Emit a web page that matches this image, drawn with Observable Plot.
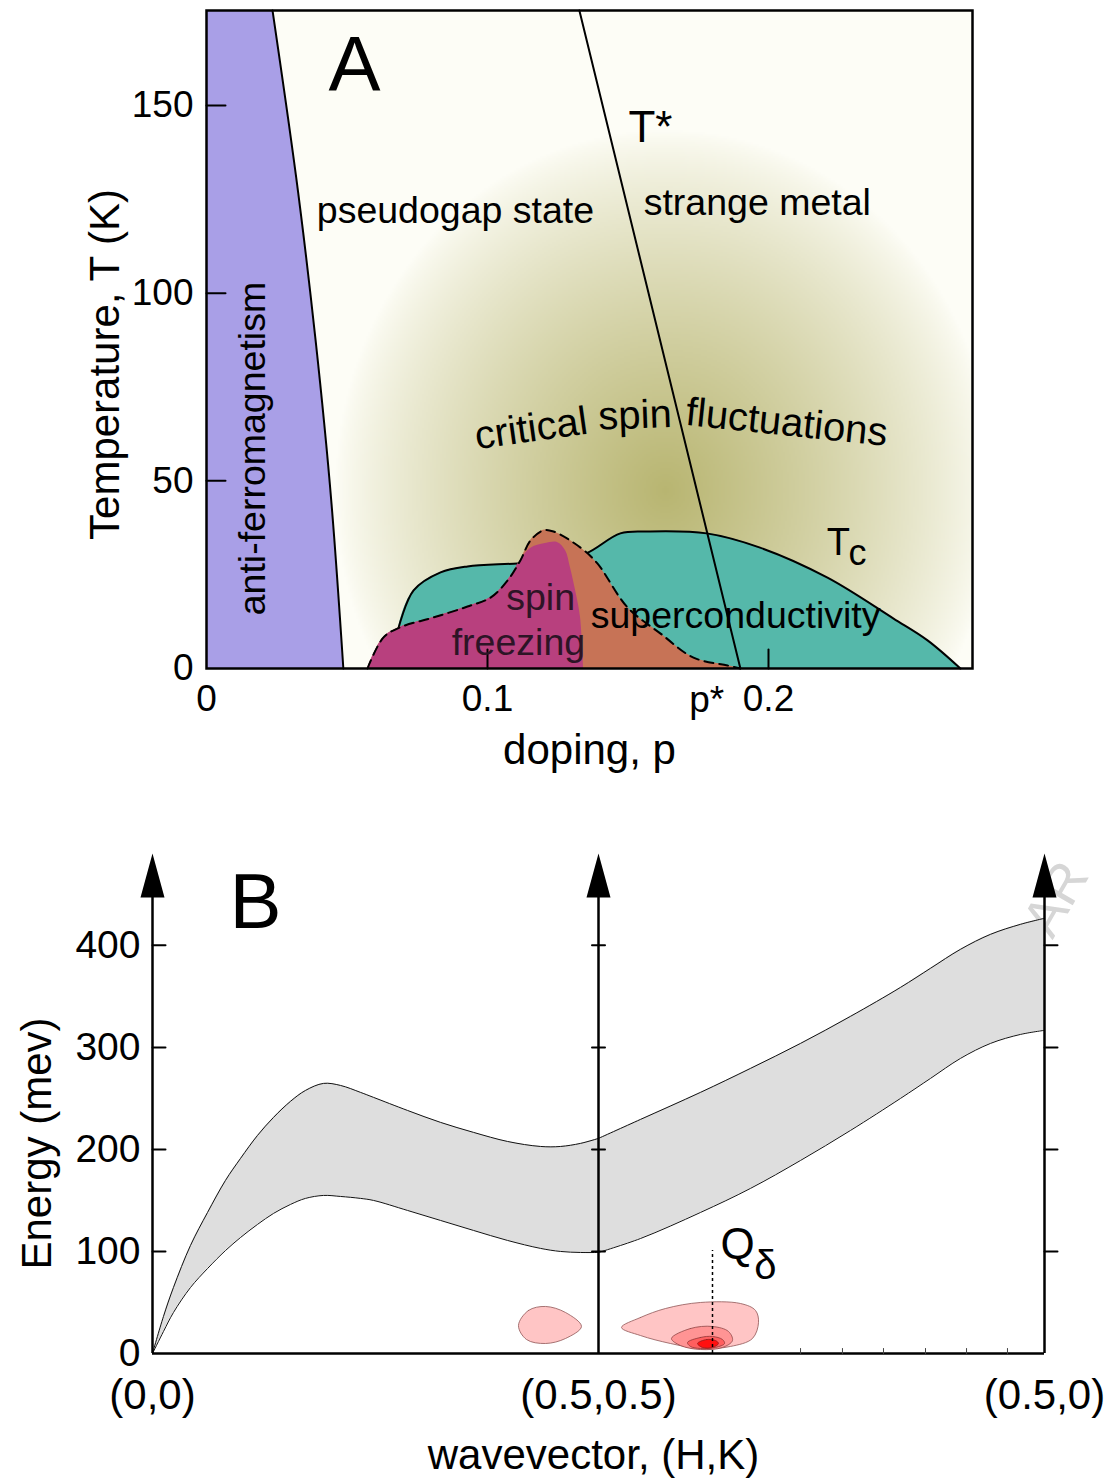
<!DOCTYPE html>
<html><head><meta charset="utf-8">
<script src="https://cdn.jsdelivr.net/npm/d3@7"></script>
<script src="https://cdn.jsdelivr.net/npm/@observablehq/plot@0.6"></script>
<style>body{margin:0;background:#fff} svg{display:block}</style>
</head><body><div id="chart"></div>
<script>
// ---------------- Panel A data (doping p, temperature T in K) ----------------
const pMax = 0.2726, tMax = 175.3;
const xTicksA = [0, 0.1, 0.2];
const yTicksA = [0, 50, 100, 150];
const pStar = 0.178;
const afBoundary = [
  {p:0.0235,T:175.3},{p:0.0318,T:131.5},{p:0.0388,T:87.6},{p:0.0445,T:43.8},{p:0.0487,T:0}];
const tStar = [{p:0.1327,T:175.3},{p:0.190,T:0}];
const tcDome = [
  {p:0.0680,T:0},{p:0.0683,T:10.7},{p:0.0737,T:20.8},{p:0.0833,T:25.6},{p:0.0929,T:27.2},
  {p:0.1107,T:28.0},{p:0.1224,T:28.8},{p:0.1349,T:30.6},{p:0.1473,T:36},{p:0.157,T:36.5},
  {p:0.178,T:36},{p:0.197,T:32.2},{p:0.221,T:24.2},{p:0.2445,T:13.3},{p:0.2566,T:7.5},{p:0.2683,T:0}];
const spinOrder = [
  {p:0.0573,T:0},{p:0.0630,T:8.3},{p:0.0690,T:11.0},{p:0.0808,T:13.6},{p:0.0929,T:16.5},
  {p:0.1011,T:18.9},{p:0.1071,T:23.4},{p:0.1117,T:28.8},{p:0.1153,T:34.1},{p:0.1199,T:36.8},
  {p:0.1235,T:36.5},{p:0.1331,T:32.2},{p:0.1391,T:28.0},{p:0.1498,T:16.3},{p:0.1616,T:9.3},
  {p:0.1733,T:2.9},{p:0.1854,T:0.8},{p:0.190,T:0}];
const spinGlass = [
  {p:0.0573,T:0},{p:0.0630,T:8.3},{p:0.0690,T:11.0},{p:0.0808,T:13.6},{p:0.0929,T:16.5},
  {p:0.1011,T:18.9},{p:0.1071,T:23.4},{p:0.1117,T:28.8},{p:0.1153,T:32},{p:0.1206,T:33.3},
  {p:0.1249,T:33.6},{p:0.1278,T:31.4},{p:0.1295,T:26.9},{p:0.1317,T:19.5},{p:0.1331,T:13.6},
  {p:0.1342,T:0}];

// ---------------- Panel B data (wavevector path q, energy E in meV) ----------------
const qTicks = [0, 0.5, 1];
const qLabels = ["(0,0)", "(0.5,0.5)", "(0.5,0)"];
const eTicks = [0, 100, 200, 300, 400];
const eMax = 490;
const qDelta = 0.6278;
const minorTicks = [0.7265, 0.7735, 0.8195, 0.8666, 0.9126, 0.9585];
const bandLeft = [
  {q:0,lo:0,hi:0},{q:0.0123,lo:21.6,hi:36.3},{q:0.0235,lo:40.2,hi:64.7},{q:0.0426,lo:64.7,hi:105.9},
  {q:0.0617,lo:83.3,hi:138.2},{q:0.0818,lo:100.9,hi:169.6},{q:0.0987,lo:113.7,hi:191.2},
  {q:0.1177,lo:126.5,hi:213.7},{q:0.1357,lo:137.3,hi:231.4},{q:0.1547,lo:146.1,hi:247.1},
  {q:0.1715,lo:152.0,hi:257.8},{q:0.1917,lo:154.9,hi:264.7},{q:0.2108,lo:153.9,hi:262.7},
  {q:0.2332,lo:152.0,hi:255.9},{q:0.2478,lo:150.0,hi:251.0},{q:0.2859,lo:140.2,hi:238.2},
  {q:0.3229,lo:130.4,hi:226.5},{q:0.3599,lo:120.6,hi:216.7},{q:0.3980,lo:110.8,hi:207.8},
  {q:0.4350,lo:103.0,hi:202.9},{q:0.4574,lo:100.0,hi:202.9},{q:0.4798,lo:99.0,hi:205.9},{q:0.5,lo:99.0,hi:210.8}];
const bandRight = [
  {q:0.5,lo:99.0,hi:210.8},{q:0.5471,lo:112.7,hi:229.4},{q:0.6143,lo:138.2,hi:255.9},
  {q:0.6704,lo:161.8,hi:279.4},{q:0.7265,lo:189.2,hi:303.9},{q:0.7825,lo:218.6,hi:330.4},
  {q:0.8386,lo:250.0,hi:358.8},{q:0.8722,lo:269.6,hi:377.5},{q:0.9058,lo:289.2,hi:396.1},
  {q:0.9395,lo:303.9,hi:410.8},{q:0.9731,lo:312.7,hi:420.6},{q:1,lo:316.7,hi:426.5}];
const blobLeft = [
  {q:0.4103,E:27.5},{q:0.4215,E:42.2},{q:0.4406,E:46.1},{q:0.4630,E:40.2},
  {q:0.4809,E:26.5},{q:0.4630,E:14.7},{q:0.4406,E:9.8},{q:0.4193,E:13.7}];
const blobOuter = [
  {q:0.5258,E:25.5},{q:0.5471,E:35.3},{q:0.5751,E:44.1},{q:0.6143,E:50},{q:0.6592,E:49},
  {q:0.6760,E:42.2},{q:0.6794,E:30.4},{q:0.6726,E:14.7},{q:0.6480,E:6.9},{q:0.6143,E:4.9},
  {q:0.5807,E:9.8},{q:0.5471,E:17.6}];
const blobMid = [
  {q:0.5818,E:14.7},{q:0.6031,E:24.5},{q:0.6278,E:26.5},{q:0.6457,E:21.6},{q:0.6502,E:12.7},
  {q:0.6390,E:5.9},{q:0.6143,E:3.9},{q:0.5919,E:7.8}];
const blobInner = [
  {q:0.5998,E:10.8},{q:0.6143,E:15.7},{q:0.6278,E:16.7},{q:0.6390,E:13.7},{q:0.6413,E:9.8},
  {q:0.6312,E:5.9},{q:0.6143,E:4.9},{q:0.6031,E:6.9}];
const blobCore = [
  {q:0.6110,E:9.8},{q:0.6211,E:13.7},{q:0.6312,E:12.7},{q:0.6345,E:9.8},{q:0.6278,E:5.9},{q:0.6166,E:5.9}];

// ---------------- drawing ----------------
const font = "'Liberation Sans', Arial, Helvetica, sans-serif";
const tickShape = {draw(ctx, l) { ctx.moveTo(0, 0); ctx.lineTo(0, -l); }};
const arrowShape = {draw(ctx, l) { ctx.moveTo(-12, 0); ctx.lineTo(0, -l); ctx.lineTo(12, 0); ctx.closePath(); }};
const txt = d => d;

const glowCenter = {p: 0.1633, T: 47.4}, glowRadius = {p: 0.1174, T: 96};
function glow(p, T) {
  const dx = (p - glowCenter.p) / glowRadius.p, dy = (T - glowCenter.T) / glowRadius.T;
  return Math.pow(Math.max(0, 1 - Math.sqrt(dx * dx + dy * dy)), 0.8);
}
const sgInk = "#2d1426";
const bodySize = 37.5, axisTitleSize = 42;

const plotA = Plot.plot({
  width: 1107, height: 790,
  marginTop: 10, marginRight: 135, marginBottom: 122, marginLeft: 206,
  x: {domain: [0, pMax]},
  y: {domain: [0, tMax]},
  color: {type: "linear", domain: [0, 1], range: ["#fdfdf6", "#b8b571"]},
  style: {fontFamily: font, background: "white", color: "black"},
  marks: [
    Plot.raster({x1: 0, x2: pMax, y1: 0, y2: tMax, pixelSize: 2, fill: glow, imageRendering: "auto"}),
    Plot.areaX(afBoundary, {x: "p", y: "T", fill: "#a99fe7", curve: "natural"}),
    Plot.line(afBoundary, {x: "p", y: "T", stroke: "black", strokeWidth: 2, curve: "natural"}),
    Plot.areaY(tcDome, {x: "p", y: "T", fill: "#55b8aa", curve: "catmull-rom"}),
    Plot.line(tcDome.slice(1), {x: "p", y: "T", stroke: "black", strokeWidth: 2, curve: "catmull-rom"}),
    Plot.areaY(spinOrder, {x: "p", y: "T", fill: "#c77356", curve: "catmull-rom"}),
    Plot.areaY(spinGlass, {x: "p", y: "T", fill: "#b8407e", curve: "catmull-rom"}),
    Plot.line(spinOrder, {x: "p", y: "T", stroke: "black", strokeWidth: 2, strokeDasharray: "9,6", curve: "catmull-rom"}),
    Plot.line(tStar, {x: "p", y: "T", stroke: "black", strokeWidth: 2}),
    Plot.vector(xTicksA.slice(1), {x: txt, y: 0, length: 19, rotate: 0, anchor: "start", shape: tickShape, stroke: "black", strokeWidth: 2}),
    Plot.vector(yTicksA.slice(1), {x: 0, y: txt, length: 19, rotate: 90, anchor: "start", shape: tickShape, stroke: "black", strokeWidth: 2}),
    Plot.frame({stroke: "black", strokeWidth: 2.5}),
    Plot.axisX({ticks: xTicksA, tickSize: 0, tickPadding: 16, fontSize: 37, label: null, tickFormat: d => d === 0 ? "0" : d3.format(".1f")(d)}),
    Plot.axisY({ticks: yTicksA, tickSize: 0, tickPadding: 13, fontSize: 37, label: null}),
    Plot.text(["p*"], {text: txt, x: pStar, y: 0, dy: 32, fontSize: 37}),
    Plot.text(["doping, p"], {text: txt, frameAnchor: "bottom", lineAnchor: "middle", dy: 82, fontSize: axisTitleSize}),
    Plot.text(["Temperature, T (K)"], {text: txt, frameAnchor: "left", textAnchor: "middle", dx: -101, dy: 25, rotate: -90, fontSize: axisTitleSize}),
    Plot.text(["A"], {text: txt, x: 0.0527, y: 160.5, fontSize: 78}),
    Plot.text(["pseudogap state"], {text: txt, x: 0.0886, y: 122, fontSize: bodySize}),
    Plot.text(["T*"], {text: txt, x: 0.158, y: 143.9, fontSize: 44}),
    Plot.text(["strange metal"], {text: txt, x: 0.196, y: 123.9, fontSize: bodySize}),
    Plot.text(["anti-ferromagnetism"], {text: txt, x: 0.0167, y: 58.6, rotate: -90, fontSize: bodySize}),
    Plot.text(["critical"], {text: txt, x: 0.1155, y: 63.9, rotate: -8, fontSize: 40}),
    Plot.text(["spin"], {text: txt, x: 0.1525, y: 67.4, rotate: -2, fontSize: 40}),
    Plot.text(["fluctuations"], {text: txt, x: 0.2065, y: 65.5, rotate: 6, fontSize: 40}),
    Plot.text(["spin"], {text: txt, x: 0.1189, y: 18.7, fill: sgInk, fontSize: bodySize}),
    Plot.text(["freezing"], {text: txt, x: 0.111, y: 6.7, fill: sgInk, fontSize: bodySize}),
    Plot.text(["superconductivity"], {text: txt, x: 0.1883, y: 14.1, fontSize: bodySize}),
    Plot.text(["T"], {text: txt, x: 0.2249, y: 33.5, fontSize: 38}),
    Plot.text(["c"], {text: txt, x: 0.2317, y: 30.6, fontSize: 36})
  ]
});

const plotB = Plot.plot({
  width: 1107, height: 689,
  marginTop: 63, marginRight: 63, marginBottom: 126, marginLeft: 152,
  x: {domain: [0, 1]},
  y: {domain: [0, eMax]},
  style: {fontFamily: font, background: "white", color: "black"},
  marks: [
    Plot.text(["AR"], {text: txt, x: 1, y: 405, dx: 8, rotate: -60, textAnchor: "start", lineAnchor: "bottom", fontSize: 54, fill: "#d6d6d6"}),
    Plot.areaY(bandLeft, {x: "q", y1: "lo", y2: "hi", fill: "#dedede", curve: "catmull-rom"}),
    Plot.areaY(bandRight, {x: "q", y1: "lo", y2: "hi", fill: "#dedede", curve: "catmull-rom"}),
    Plot.line(bandLeft, {x: "q", y: "hi", stroke: "#111", strokeWidth: 1, curve: "catmull-rom"}),
    Plot.line(bandLeft, {x: "q", y: "lo", stroke: "#111", strokeWidth: 1, curve: "catmull-rom"}),
    Plot.line(bandRight, {x: "q", y: "hi", stroke: "#111", strokeWidth: 1, curve: "catmull-rom"}),
    Plot.line(bandRight, {x: "q", y: "lo", stroke: "#111", strokeWidth: 1, curve: "catmull-rom"}),
    Plot.line(blobLeft, {x: "q", y: "E", fill: "#ffc5c5", stroke: "#8f5555", strokeWidth: 0.8, curve: "catmull-rom-closed"}),
    Plot.line(blobOuter, {x: "q", y: "E", fill: "#ffc5c5", stroke: "#8f5555", strokeWidth: 0.8, curve: "catmull-rom-closed"}),
    Plot.line(blobMid, {x: "q", y: "E", fill: "#ff9494", stroke: "#8f4545", strokeWidth: 0.8, curve: "catmull-rom-closed"}),
    Plot.line(blobInner, {x: "q", y: "E", fill: "#ff5f5f", stroke: "#8f3535", strokeWidth: 0.8, curve: "catmull-rom-closed"}),
    Plot.line(blobCore, {x: "q", y: "E", fill: "#ff1010", stroke: "#8f2020", strokeWidth: 0.8, curve: "catmull-rom-closed"}),
    Plot.ruleX([qDelta], {y1: 0, y2: 101, stroke: "black", strokeWidth: 1.5, strokeDasharray: "3,3"}),
    Plot.ruleX(qTicks, {y1: 0, y2: eMax - 10, stroke: "black", strokeWidth: 2.5}),
    Plot.vector(qTicks, {x: txt, y: eMax, length: 44, anchor: "end", shape: arrowShape, fill: "black", stroke: "none"}),
    Plot.ruleY([0], {stroke: "black", strokeWidth: 2.5}),
    Plot.vector(minorTicks, {x: txt, y: 0, length: 5, anchor: "start", shape: tickShape, stroke: "#444", strokeWidth: 1}),
    Plot.vector(eTicks.slice(1), {x: 0, y: txt, length: 13, rotate: 90, anchor: "start", shape: tickShape, stroke: "black", strokeWidth: 2}),
    Plot.vector(eTicks.slice(1), {x: 0.5, y: txt, length: 13, rotate: 90, anchor: "middle", shape: tickShape, stroke: "black", strokeWidth: 2}),
    Plot.vector(eTicks.slice(1), {x: 1, y: txt, length: 13, rotate: 90, anchor: "start", shape: tickShape, stroke: "black", strokeWidth: 2}),
    Plot.axisX({ticks: qTicks, tickSize: 0, tickPadding: 26, fontSize: 42, label: null, tickFormat: d => qLabels[qTicks.indexOf(d)]}),
    Plot.axisY({ticks: eTicks, tickSize: 0, tickPadding: 12, fontSize: 39, label: null}),
    Plot.text(["wavevector, (H,K)"], {text: txt, frameAnchor: "bottom", lineAnchor: "middle", dx: -5, dy: 102, fontSize: axisTitleSize}),
    Plot.text(["Energy (mev)"], {text: txt, frameAnchor: "left", textAnchor: "middle", dx: -115, dy: 40, rotate: -90, fontSize: axisTitleSize}),
    Plot.text(["B"], {text: txt, x: 0.1155, y: 441, fontSize: 78}),
    Plot.text(["Q"], {text: txt, x: qDelta, y: 106, dx: 25, fontSize: 44}),
    Plot.text(["δ"], {text: txt, x: qDelta, y: 86, dx: 53, fontSize: 40})
  ]
});

const root = document.getElementById("chart");
root.appendChild(plotA);
root.appendChild(plotB);
</script>
</body></html>
